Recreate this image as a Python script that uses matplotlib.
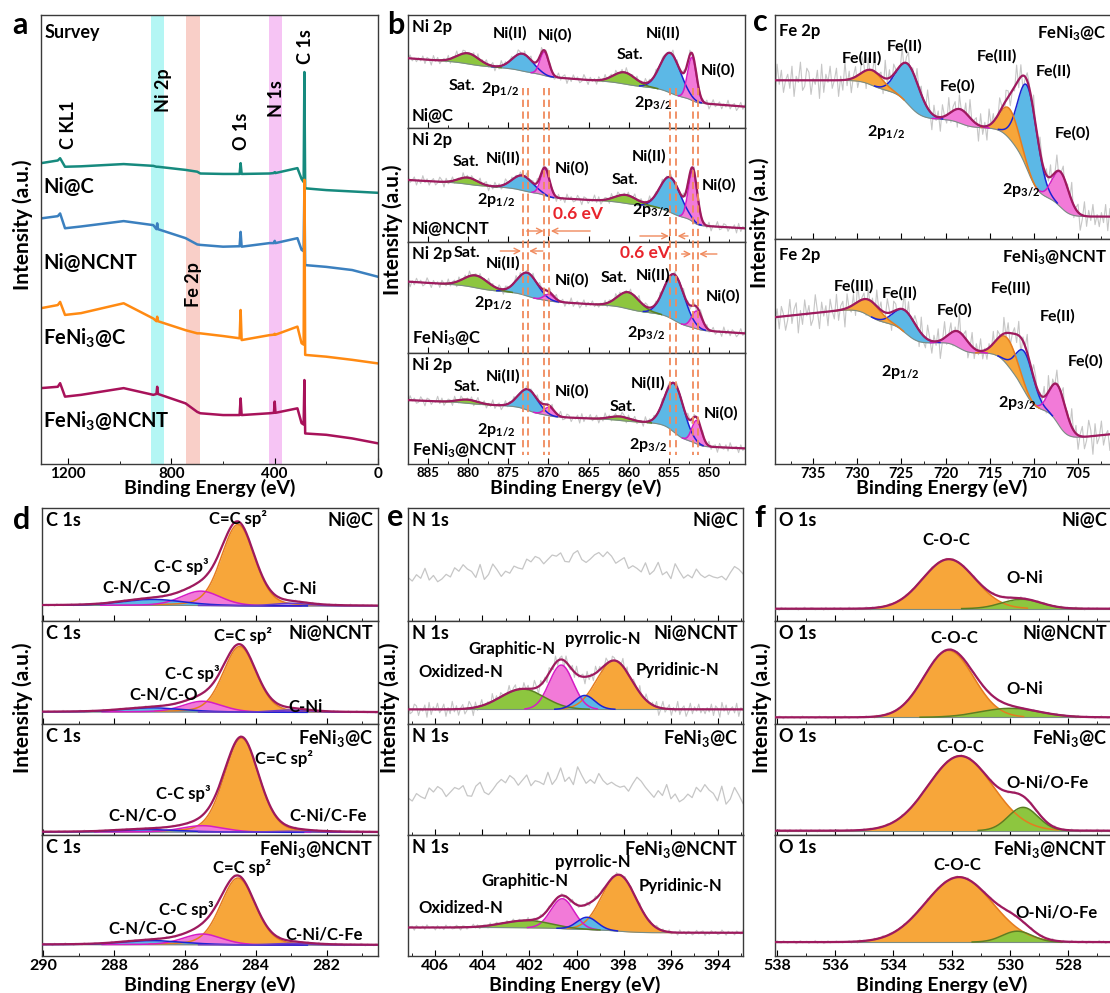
import numpy as np
import matplotlib
matplotlib.use("Agg")
import matplotlib.pyplot as plt
from matplotlib.ticker import MultipleLocator

plt.rcParams["font.family"] = ["Lato", "DejaVu Sans"]
plt.rcParams["font.weight"] = "bold"
plt.rcParams["mathtext.fontset"] = "custom"
plt.rcParams["mathtext.rm"] = "Lato:bold"
plt.rcParams["mathtext.it"] = "Lato:bold"
plt.rcParams["mathtext.bf"] = "Lato:bold"
plt.rcParams["mathtext.default"] = "rm"

# ---------------- data ----------------
samples = ["Ni@C", "Ni@NCNT", "FeNi$_3$@C", "FeNi$_3$@NCNT"]

# (a) survey spectra (arbitrary intensity units)
survey_energy = [1305, 1240, 1231, 1212, 1150, 985, 870, 858, 855, 852,
                 745, 700, 688, 600, 536, 532, 528, 420, 403, 400, 397,
                 312, 296, 288, 285, 282, 200, 100, 0]
survey_ni_c = [67.0, 67.6, 68.1, 66.2, 66.3, 66.8, 66.4, 66.2, 66.2, 66.2,
               65.5, 65.1, 64.7, 64.6, 64.6, 67.0, 64.6, 64.7, 64.8, 65.0, 64.8,
               65.9, 63.5, 62.8, 87.3, 61.4, 61.0, 60.7, 60.4]
survey_ni_ncnt = [54.7, 55.2, 55.8, 52.5, 52.9, 54.1, 53.2, 52.3, 53.6, 52.3,
                  50.3, 48.9, 48.8, 48.4, 48.5, 51.7, 48.4, 49.2, 49.2, 49.7, 49.2,
                  50.3, 47.7, 47.4, 62.0, 44.3, 43.9, 43.2, 41.7]
survey_feni_c = [34.7, 35.4, 36.1, 33.2, 33.6, 35.8, 32.4, 31.8, 32.8, 31.8,
                 29.8, 29.1, 29.1, 28.5, 28.0, 34.3, 27.6, 28.7, 28.8, 29.0, 28.8,
                 30.6, 26.9, 26.6, 63.3, 24.3, 23.9, 23.2, 22.4]
survey_feni_ncnt = [16.9, 17.2, 18.0, 15.0, 15.4, 16.9, 15.4, 15.6, 17.2, 15.6,
                    13.5, 11.6, 11.3, 10.9, 10.9, 14.6, 10.9, 11.3, 11.4, 13.9, 11.4,
                    12.4, 9.1, 8.8, 18.7, 6.8, 6.5, 5.7, 4.6]
band_lo = [827, 688, 370]
band_hi = [880, 743, 423]

# measured noise residuals of the raw traces (scaled per panel)
noise = [3, -5, 7, -2, -8, 4, 1, -6, 9, -3, 2, -7, 5, 0, -4, 8, -1, -9, 6, -2,
         3, -6, 1, 7, -5, -3, 8, -8, 2, 4, -1, -7, 6, -4, 9, -2, 0, -6, 3, 5,
         -9, 1, 7, -3, -5, 4, -1, 8, -7, 2, -4, 6, -8, 3, 1, -2, 9, -6, 5, -3,
         -1, 7, -9, 4, 2, -5, 8, -4, 0, 6, -7, 3, -2, 5, -8, 1, 9, -3, -6, 4,
         -1, 7, -5, 2, -9, 6, 3, -4, 8, -2, -7, 1, 5, -6, 4, -3, 9, -8, 2, 0,
         -5, 7, -1, -4, 6, -9, 3, 8, -2, -6, 5, 1, -7, 4, -3, 9, -5, 2, -8, 6,
         0, -4, 7, -1, 3, -6, 8, -9, 5, -2, 1, -7, 4, 6, -3, -5, 9, -1, 2, -8,
         7, -4, 3, 0, -6, 5, -2, 8, -9, 1, 4, -7, 6, -3, 2, -5, 1, -4, 6, -2]

# (b) Ni 2p: Sat, Ni(II) 2p1/2, Ni(0) 2p1/2, Sat, Ni(II) 2p3/2, Ni(0) 2p3/2
ni_center = [[880.0, 873.2, 870.5, 860.5, 854.8, 852.1],
             [880.0, 873.2, 870.4, 860.3, 854.8, 852.0],
             [879.0, 872.6, 869.9, 860.0, 854.3, 851.5],
             [880.0, 872.5, 869.9, 861.0, 854.3, 851.5]]
ni_height = [[9.4, 15.3, 20.6, 10.3, 35.3, 38.0],
             [5.9, 13.2, 23.5, 7.4, 30.9, 45.0],
             [11.1, 21.0, 6.0, 15.0, 41.4, 16.0],
             [3.3, 18.9, 7.5, 3.6, 44.0, 21.0]]
ni_fwhm = [[3.2, 3.0, 1.3, 3.2, 3.0, 1.3],
           [2.8, 3.0, 1.3, 3.2, 3.0, 1.3],
           [3.5, 3.0, 1.5, 3.2, 3.0, 1.5],
           [3.0, 2.8, 1.5, 3.0, 2.8, 1.4]]
ni_bg = [(19.1, 0.54, 0.069), (11.8, 0.405, 0.098), (17.4, 0.46, 0.089), (14.0, 0.31, 0.128)]
ni_shift_lines = [873.2, 872.6, 870.5, 869.9, 854.8, 854.1, 852.0, 851.4]

# (c) Fe 2p: Fe(III), Fe(II), Fe(0) 2p1/2 ; Fe(III), Fe(II), Fe(0) 2p3/2
fe_samples = ["FeNi$_3$@C", "FeNi$_3$@NCNT"]
fe_center = [[728.3, 724.2, 718.3, 712.8, 710.7, 707.0],
             [728.6, 724.5, 718.5, 713.0, 711.0, 707.3]]
fe_height = [[6.7, 17.9, 6.3, 13.4, 37.5, 15.6],
             [7.0, 9.9, 7.1, 11.9, 17.5, 17.0]]
fe_fwhm = [[2.8, 3.0, 2.5, 2.5, 2.6, 2.2],
           [3.0, 3.0, 2.5, 2.8, 2.4, 2.2]]
fe_bg = [(10.0, 0.0, 0.24), (13.3, -0.42, 0.375)]

# (d) C 1s: C=C sp2, C-C sp3, C-N/C-O, C-Ni
c_center = [[284.5, 285.55, 286.9, 283.0], [284.45, 285.5, 286.9, 283.0],
            [284.4, 285.5, 287.0, 283.0], [284.5, 285.5, 286.9, 283.0]]
c_height = [[71.9, 12.7, 5.3, 2.4], [63.8, 10.4, 3.9, 2.3],
            [84.7, 5.7, 2.1, 1.0], [55.3, 8.8, 3.3, 1.4]]
c_fwhm = [[1.1, 1.3, 2.0, 1.2], [1.1, 1.3, 2.0, 1.2],
          [1.15, 1.4, 2.0, 1.2], [1.15, 1.3, 2.0, 1.2]]
c_bg = [(13.3, 0.0, 0.005), (11.3, 0.0, 0.005), (2.4, 0.0, 0.003), (9.0, 0.0, 0.005)]

# (e) N 1s: Oxidized, Graphitic, pyrrolic, Pyridinic (only NCNT samples fitted)
n_center = [[402.3, 400.65, 399.65, 398.4], [402.1, 400.6, 399.55, 398.2]]
n_height = [[19.7, 43.0, 13.5, 47.3], [6.0, 24.7, 10.1, 46.6]]
n_fwhm = [[2.2, 1.2, 1.0, 1.75], [2.4, 1.15, 1.0, 1.7]]
n_bg = [(14.2, 0.0, 0.0), (19.2, 0.0, 0.033)]
n_raw_level = [41.7, 36.0]
n_raw_hump = [(399.8, 15.0, 5.0), (400.3, 18.0, 5.5)]

# (f) O 1s: C-O-C, O-Ni(/O-Fe)
o_center = [[532.1, 529.6], [532.1, 530.0], [531.7, 529.55], [531.75, 529.75]]
o_height = [[43.8, 8.3], [64.7, 8.7], [67.3, 21.0], [53.7, 9.0]]
o_fwhm = [[2.1, 1.6], [2.0, 2.4], [2.6, 1.2], [2.7, 1.2]]
o_bg = [(10.9, 0.0, 0.0), (6.5, 0.0, 0.0), (3.9, 0.0, 0.0), (11.5, 0.0, 0.0)]

# ---------------- style ----------------
GREEN, BLUE, PINK, ORANGE, LILAC = "#8dc63f", "#5cb8e6", "#f27ad8", "#f7a63a", "#a99af0"
EDGE = {GREEN: "#5a7f22", BLUE: "#1c22d4", PINK: "#d61cc4", ORANGE: "#e57c1f", LILAC: "#6a3cc8"}
ENV = "#9e1a5e"
RAW = "#c6c6c6"
RAW_LIGHT = "#dccbd6"
BGLINE = "#7a8c84"
DASH = "#f08a5d"
survey_colors = ["#168a7e", "#3b80bf", "#ff8a12", "#a8125a"]
band_colors = ["#b4f6f4", "#f9cfc8", "#f6c4f4"]

W, H = 1110, 993
fig = plt.figure(figsize=(W / 100, H / 100), dpi=100)


def box(l, t, r, b):
    return [l / W, 1 - b / H, (r - l) / W, (b - t) / H]


def stack(l, r, edges):
    return [fig.add_axes(box(l, t, r, b)) for t, b in zip(edges[:-1], edges[1:])]


def ftext(x, y, s, **kw):
    fig.text(x / W, 1 - y / H, s, **kw)


def style(ax, lim, major, minor, labels, size):
    ax.set_xlim(*lim)
    ax.set_ylim(0, 100)
    ax.set_yticks([])
    ax.xaxis.set_major_locator(MultipleLocator(major))
    ax.xaxis.set_minor_locator(MultipleLocator(minor))
    ax.tick_params(axis="x", which="both", direction="in", labelsize=size, pad=2,
                   labelbottom=labels)
    ax.tick_params(axis="x", which="major", length=4)
    ax.tick_params(axis="x", which="minor", length=2)
    for s in ax.spines.values():
        s.set_color("#3a3a3a")
        s.set_linewidth(1.0)


def peak(E, c, h, w, m=0.0):
    x = (E - c) / w
    return h * ((1 - m) * np.exp(-4 * np.log(2) * x ** 2) + m / (1 + 4 * x ** 2))


def fit_axis(ax, lim, cs, hs, ws, cols, bgp, amp, shift, m=0.0, raw_col=RAW, step=1):
    lo, hi = min(lim), max(lim)
    base, slope, k = bgp

    def model(x):
        bg = base + slope * (x - lo)
        parts = []
        for c, h, w in zip(cs, hs, ws):
            bg = bg + k * h * w / (1 + np.exp(-(x - c) / (w / 4)))
            parts.append(peak(x, c, h, w, m))
        return bg, parts

    nz = np.roll(np.asarray(noise, float), shift)[::step]
    Er = np.linspace(lo, hi, len(nz))
    bgr, pr = model(Er)
    ax.plot(Er, bgr + sum(pr) + amp * nz, color=raw_col, lw=0.8, zorder=1)

    E = np.linspace(lo, hi, 900)
    bg, parts = model(E)
    order = np.argsort([-h * w for h, w in zip(hs, ws)])
    for i in order:
        ax.fill_between(E, bg, bg + parts[i], color=cols[i], lw=0, zorder=2)
    ax.plot(E, bg, color=BGLINE, lw=0.8, zorder=3)
    for i in order:
        y = np.where(parts[i] > 0.01 * hs[i], bg + parts[i], np.nan)
        ax.plot(E, y, color=EDGE[cols[i]], lw=1.1, zorder=3)
    ax.plot(E, bg + sum(parts), color=ENV, lw=1.6, zorder=4)


def put(ax, items, size):
    for x, y, s in items:
        ax.text(x, y, s, ha="center", va="center", fontsize=size, zorder=6)


def corner(ax, left, right, size, right_bottom=False):
    ax.text(0.012, 0.965, left, transform=ax.transAxes, ha="left", va="top", fontsize=size, zorder=6)
    if right_bottom:
        ax.text(0.012, 0.04, right, transform=ax.transAxes, ha="left", va="bottom", fontsize=size, zorder=6)
    else:
        ax.text(0.985, 0.965, right, transform=ax.transAxes, ha="right", va="top", fontsize=size, zorder=6)


# ---------------- (a) survey ----------------
ax_a = fig.add_axes(box(41, 15, 378, 464))
for lo, hi, col in zip(band_lo, band_hi, band_colors):
    ax_a.axvspan(lo, hi, color=col, lw=0, zorder=0)
for y, col in zip([survey_ni_c, survey_ni_ncnt, survey_feni_c, survey_feni_ncnt], survey_colors):
    ax_a.plot(survey_energy, y, color=col, lw=1.8, zorder=2)
style(ax_a, (1305, 0), 400, 200, True, 11)
ax_a.text(0.01, 0.96, "Survey", transform=ax_a.transAxes, ha="left", va="center", fontsize=13)
for x, y, s in [(1199, 75.6, "C KL1"), (832, 83.3, "Ni 2p"), (529, 74.2, "O 1s"),
                (392, 81.4, "N 1s"), (280, 93.0, "C 1s"), (714, 40.0, "Fe 2p")]:
    ax_a.text(x, y, s, rotation=90, ha="center", va="center", fontsize=13, zorder=5)
for y, s in zip([61.8, 44.7, 28.0, 9.4], samples):
    ax_a.text(1296, y, s, ha="left", va="center", fontsize=14.5, zorder=5)

# ---------------- (b) Ni 2p ----------------
b_lim = (887.5, 845.5)
b_axes = stack(408, 745, [15, 128.3, 241.7, 352.7, 464])
ni_cols = [GREEN, BLUE, PINK, GREEN, BLUE, PINK]
ni_labels = [
    [(874.8, 84, "Ni(II)"), (869.2, 82, "Ni(0)"), (880.8, 37, "Sat."), (876.0, 35, "2p$_{1/2}$"),
     (859.9, 65, "Sat."), (855.7, 84, "Ni(II)"), (848.9, 51.5, "Ni(0)"), (857.0, 22, "2p$_{3/2}$")],
    [(880.3, 70.6, "Sat."), (875.6, 73.5, "Ni(II)"), (867.1, 64.7, "Ni(0)"), (876.5, 36.8, "2p$_{1/2}$"),
     (860.5, 54.4, "Sat."), (857.4, 75, "Ni(II)"), (848.7, 50, "Ni(0)"), (857.2, 27.9, "2p$_{3/2}$")],
    [(880.2, 89.5, "Sat."), (875.6, 80.5, "Ni(II)"), (867.1, 65.5, "Ni(0)"), (876.9, 44.4, "2p$_{1/2}$"),
     (861.9, 67, "Sat."), (857.0, 70, "Ni(II)"), (848.2, 50.5, "Ni(0)"), (857.8, 17.4, "2p$_{3/2}$")],
    [(880.2, 69.5, "Sat."), (875.6, 78.4, "Ni(II)"), (867.1, 65, "Ni(0)"), (876.5, 30.5, "2p$_{1/2}$"),
     (860.7, 51.5, "Sat."), (857.6, 72.5, "Ni(II)"), (848.5, 45.5, "Ni(0)"), (857.6, 17, "2p$_{3/2}$")],
]
for i, ax in enumerate(b_axes):
    fit_axis(ax, b_lim, ni_center[i], ni_height[i], ni_fwhm[i], ni_cols, ni_bg[i], 0.5, 37 * i)
    style(ax, b_lim, 5, 2.5, i == 3, 9.5)
    put(ax, ni_labels[i], 11.5)
    corner(ax, "Ni 2p", samples[i], 12, right_bottom=True)

ov = fig.add_axes(box(408, 15, 745, 464))
ov.set_xlim(*b_lim)
ov.set_ylim(464, 15)
ov.axis("off")
ov.vlines(ni_shift_lines, 88, 455, colors=DASH, linestyles=(0, (4, 2.5)), lw=1.3)
for y, a0, a1, b0, b1 in [(231, 872.7, 870.6, 864.8, 869.7), (236, 858.6, 855.0, 852.6, 853.9),
                          (251, 876.0, 873.4, 870.7, 872.4), (254, 853.4, 852.2, 849.0, 851.2)]:
    for t0, t1 in [(a0, a1), (b0, b1)]:
        ov.annotate("", xy=(t1, y), xytext=(t0, y),
                    arrowprops=dict(arrowstyle="->", color=DASH, lw=1.0, shrinkA=0, shrinkB=0))
ov.text(866.3, 214, "0.6 eV", color="#e8242c", fontsize=12.5, ha="center", va="center")
ov.text(858.0, 253, "0.6 eV", color="#e8242c", fontsize=12.5, ha="center", va="center")

# ---------------- (c) Fe 2p ----------------
c_lim = (739.3, 701.2)
c_axes = stack(775, 1112, [15, 239, 464])
fe_cols = [ORANGE, BLUE, PINK, ORANGE, BLUE, PINK]
fe_labels = [
    [(729.5, 80.7, "Fe(III)"), (724.6, 85.9, "Fe(II)"), (726.7, 47.9, "2p$_{1/2}$"), (718.7, 68.3, "Fe(0)"),
     (714.2, 81.4, "Fe(III)"), (707.8, 74.7, "Fe(II)"), (705.7, 47.2, "Fe(0)"), (711.5, 21.9, "2p$_{3/2}$")],
    [(730.4, 78.8, "Fe(III)"), (725.2, 75.9, "Fe(II)"), (725.2, 41.0, "2p$_{1/2}$"), (719.0, 68.4, "Fe(0)"),
     (712.6, 78.0, "Fe(III)"), (707.3, 65.5, "Fe(II)"), (704.2, 45.5, "Fe(0)"), (711.9, 27.0, "2p$_{3/2}$")],
]
for i, ax in enumerate(c_axes):
    fit_axis(ax, c_lim, fe_center[i], fe_height[i], fe_fwhm[i], fe_cols, fe_bg[i], 0.9, 53 * i + 11)
    style(ax, c_lim, 5, 2.5, i == 1, 10.5)
    put(ax, fe_labels[i], 11.5)
    corner(ax, "Fe 2p", fe_samples[i], 12)

# ---------------- (d) C 1s ----------------
row2 = [508, 621, 724, 835, 956]
d_lim = (290.03, 280.55)
d_axes = stack(42, 378, row2)
c_cols = [ORANGE, PINK, BLUE, LILAC]
c_labels = [
    [(284.5, 91.1, "C=C sp²"), (286.1, 48.2, "C-C sp³"), (287.36, 29.9, "C-N/C-O"), (282.76, 28.1, "C-Ni")],
    [(284.36, 86.4, "C=C sp²"), (285.8, 49.5, "C-C sp³"), (286.6, 28.2, "C-N/C-O"), (282.6, 16.5, "C-Ni")],
    [(283.2, 69.1, "C=C sp²"), (286.05, 37.0, "C-C sp³"), (287.18, 18.0, "C-N/C-O"), (281.96, 18.0, "C-Ni/C-Fe")],
    [(284.4, 73.4, "C=C sp²"), (285.95, 38.5, "C-C sp³"), (287.18, 22.5, "C-N/C-O"), (282.06, 17.8, "C-Ni/C-Fe")],
]
for i, ax in enumerate(d_axes):
    fit_axis(ax, d_lim, c_center[i], c_height[i], c_fwhm[i], c_cols, c_bg[i], 0.12, 29 * i + 5,
             m=0.2, raw_col=RAW_LIGHT)
    style(ax, d_lim, 2, 1, i == 3, 11.5)
    put(ax, c_labels[i], 12)
    corner(ax, "C 1s", samples[i], 13)

# ---------------- (e) N 1s ----------------
e_lim = (407.16, 392.93)
e_axes = stack(408, 743, row2)
n_cols = [GREEN, PINK, BLUE, ORANGE]
n_labels = [
    [(402.75, 72.8, "Graphitic-N"), (398.9, 82.2, "pyrrolic-N"), (404.9, 50.8, "Oxidized-N"), (395.7, 52.4, "Pyridinic-N")],
    [(399.3, 78.0, "pyrrolic-N"), (402.2, 61.6, "Graphitic-N"), (404.9, 39.7, "Oxidized-N"), (395.6, 58.0, "Pyridinic-N")],
]
for j, (ax, lvl, (hc, hh, hw)) in enumerate(zip([e_axes[0], e_axes[2]], n_raw_level, n_raw_hump)):
    nz = np.roll(np.asarray(noise, float), 17 + 46 * j)[::2]
    Er = np.linspace(min(e_lim), max(e_lim), len(nz))
    ax.plot(Er, lvl + peak(Er, hc, hh, hw) + (0.8 + 0.15 * j) * nz, color=RAW, lw=0.9)
for j, ax in enumerate([e_axes[1], e_axes[3]]):
    fit_axis(ax, e_lim, n_center[j], n_height[j], n_fwhm[j], n_cols, n_bg[j], [0.85, 0.25][j],
             71 * j + 23)
    put(ax, n_labels[j], 12)
for i, ax in enumerate(e_axes):
    style(ax, e_lim, 2, 1, i == 3, 11.5)
    corner(ax, "N 1s", samples[i], 13)

# ---------------- (f) O 1s ----------------
f_lim = (538.06, 526.5)
f_axes = stack(775, 1112, row2)
o_cols = [ORANGE, GREEN]
o_labels = [
    [(532.2, 71.9, "C-O-C"), (529.5, 37.9, "O-Ni")],
    [(531.9, 83.2, "C-O-C"), (529.5, 33.7, "O-Ni")],
    [(531.7, 79.0, "C-O-C"), (528.7, 47.1, "O-Ni/O-Fe")],
    [(531.8, 75.3, "C-O-C"), (528.4, 36.2, "O-Ni/O-Fe")],
]
for i, ax in enumerate(f_axes):
    fit_axis(ax, f_lim, o_center[i], o_height[i], o_fwhm[i], o_cols, o_bg[i], 0.15, 41 * i + 9,
             raw_col=RAW_LIGHT)
    style(ax, f_lim, 2, 1, i == 3, 11.5)
    put(ax, o_labels[i], 12)
    corner(ax, "O 1s", samples[i], 13)

# ---------------- figure-level labels ----------------
for x, y, s in [(20, 25, "a"), (396, 25, "b"), (760, 22, "c"),
                (22, 520, "d"), (395, 517, "e"), (760, 518, "f")]:
    ftext(x, y, s, fontsize=22, ha="center", va="center")
for x, y in [(23, 225), (393, 230), (760, 223), (23, 708), (390, 708), (762, 708)]:
    ftext(x, y, "Intensity (a.u.)", rotation=90, ha="center", va="center", fontsize=15)
for x, y in [(210, 488), (576, 488), (942, 488), (210, 985), (575, 985), (942, 985)]:
    ftext(x, y, "Binding Energy (eV)", ha="center", va="center", fontsize=14)

fig.savefig("out.png", dpi=100)
